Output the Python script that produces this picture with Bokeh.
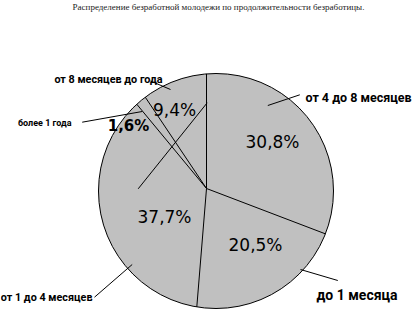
import numpy as np
from bokeh.plotting import figure
from bokeh.models import Range1d
from bokeh.core.properties import value
from bokeh.embed import file_html
from bokeh.resources import INLINE

# ---- data ----
title = "Распределение безработной молодежи по продолжительности безработицы."
categories = ["от 4 до 8 месяцев", "до 1 месяца", "от 1 до 4 месяцев", "более 1 года", "от 8 месяцев до года"]
shares = [30.8, 20.5, 37.7, 1.6, 9.4]
pct_labels = ["30,8%", "20,5%", "37,7%", "1,6%", "9,4%"]

W, H = 414, 309
def Y(yp):
    return H - np.asarray(yp, dtype=float)

p = figure(width=W, height=H, output_backend="svg", toolbar_location=None,
           x_range=Range1d(0, W), y_range=Range1d(0, H), min_border=0)
p.axis.visible = False
p.grid.visible = False
p.outline_line_color = None
p.background_fill_color = "white"
p.border_fill_color = "white"

# pie disc
cx, cy, R = 215.5, Y(190.5), 117.5
p.circle(x=[cx], y=[cy], radius=R, fill_color="#c0c0c0", line_color="black", line_width=1)

# slice boundaries (rays from the apex to the rim), from cumulative shares
ax_, ay_ = 206.0, Y(188.0)
frac = np.concatenate([[0.0], np.cumsum(shares)[:-1]]) / 100.0
theta = 2 * np.pi * frac
dx, dy = np.sin(theta), np.cos(theta)
ox, oy = ax_ - cx, ay_ - cy
b = ox * dx + oy * dy
c = ox ** 2 + oy ** 2 - R ** 2
t = -b + np.sqrt(b ** 2 - c)
p.segment(x0=np.full(len(t), ax_), y0=np.full(len(t), ay_), x1=ax_ + t * dx, y1=ay_ + t * dy,
          line_color="black", line_width=1)

# percentage labels
pct_x = [272, 255, 164, 128, 174]
pct_y = Y([141, 244, 216, 125, 109])
pct_size = ["17px", "17px", "17px", "15px", "17px"]
pct_style = ["normal", "normal", "normal", "bold", "normal"]
for i in range(len(pct_labels)):
    p.text(x=[pct_x[i]], y=[pct_y[i]], text=[pct_labels[i]], text_font=value("DejaVu Sans"),
           text_font_size=pct_size[i], text_font_style=pct_style[i], text_color="black",
           text_align="center", text_baseline="middle")

# category labels
cat_x = [305, 316, 92, 71, 108]
cat_y = Y([97, 294, 297, 122, 79])
cat_align = ["left", "left", "right", "right", "center"]
cat_size = ["12.5px", "14px", "10.8px", "9px", "10.8px"]
for i in range(len(categories)):
    p.text(x=[cat_x[i]], y=[cat_y[i]], text=[categories[i]],
           text_font=value("Roboto"), text_font_style="bold",
           text_font_size=cat_size[i], text_color="black",
           text_align=cat_align[i], text_baseline="middle")

# leader lines
lx0 = [267.3, 300.0, 94.0, 81.7, 150.0, 137.7]
ly0 = Y([105.0, 269.0, 296.7, 121.7, 80.5, 188.3])
lx1 = [299.3, 337.3, 131.7, 141.7, 170.0, 206.7]
ly1 = Y([94.3, 280.0, 264.0, 111.0, 89.0, 102.3])
p.segment(x0=lx0, y0=ly0, x1=lx1, y1=ly1, line_color="black", line_width=1)

# title
p.text(x=[218], y=[Y(6)], text=[title], text_font=value("Liberation Serif"),
       text_font_size="9px", text_color="#222222", text_align="center", text_baseline="middle")

open("out.html", "w").write(file_html(p, INLINE))
